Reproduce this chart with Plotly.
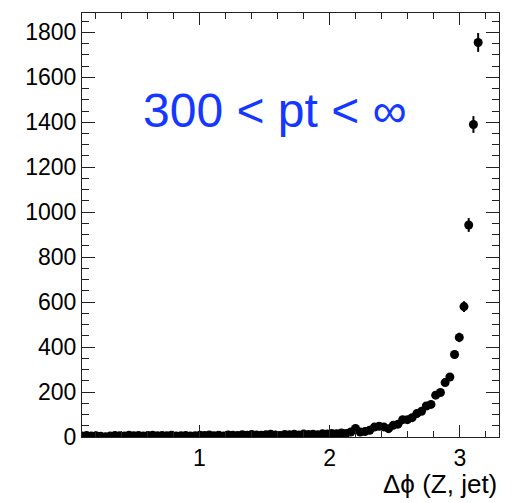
import numpy as np
import plotly.graph_objects as go

# Delta-phi bin centres (radians) and event counts per bin
bin_width = 0.0362
last_center = 3.14
counts = [
    # low delta-phi plateau
    5, 6, 4, 5, 7, 4, 6, 3, 1, 5, 7, 6, 5, 8, 6, 7, 5, 7, 8, 6, 7, 6, 8, 5, 6,
    7, 4, 6, 8, 7, 9, 6, 8, 5, 9, 8, 7, 10, 8, 11, 9, 8, 10, 12, 9, 7, 11,
    10, 12, 9, 13, 11, 12, 10, 14, 13, 16,
    # rise towards back-to-back topology
    14, 18, 16, 22, 38, 22, 24, 30, 44, 48, 45, 37, 52, 57, 77, 77, 86, 104,
    114, 138, 145, 186, 198, 242, 267, 367, 443, 580, 943, 1390, 1755,
]
n_bins = len(counts)
dphi = [last_center - bin_width * (n_bins - 1 - i) for i in range(n_bins)]
errors = np.sqrt(np.array(counts, dtype=float))

label_text = "300 < pt < \u221e"
x_title = "\u0394\u03d5 (Z, jet)"

x_range = [0.1, 3.3]
y_range = [0, 1886]

fig = go.Figure()
fig.add_trace(go.Scatter(
    x=dphi, y=counts,
    mode="markers",
    marker=dict(symbol="circle", size=9, color="black"),
    error_y=dict(type="data", array=errors, visible=True,
                 width=0, thickness=2, color="black"),
    showlegend=False,
))

font_family = "Liberation Sans, Arial, sans-serif"

axis_common = dict(
    showline=True, linecolor="#222", linewidth=1,
    mirror="ticks", ticks="inside", tickcolor="#222", tickwidth=1,
    showgrid=False, zeroline=False,
    tickfont=dict(family=font_family, size=23, color="black"),
)

fig.update_xaxes(
    range=x_range, tick0=0, dtick=1, ticklen=12,
    minor=dict(dtick=0.2, ticklen=6, ticks="inside", tickcolor="#222", showgrid=False),
    **axis_common,
)
fig.update_yaxes(
    range=y_range, tick0=0, dtick=200, ticklen=13,
    minor=dict(dtick=50, ticklen=7, ticks="inside", tickcolor="#222", showgrid=False),
    **axis_common,
)

fig.add_annotation(
    x=0.463, y=0.769, xref="paper", yref="paper",
    text=label_text, showarrow=False,
    xanchor="center", yanchor="middle",
    font=dict(family=font_family, size=48, color="#1438ff"),
)
fig.add_annotation(
    x=1.0, y=-0.111, xref="paper", yref="paper",
    text=x_title, showarrow=False,
    xanchor="right", yanchor="middle",
    font=dict(family=font_family, size=26, color="black"),
)

fig.update_layout(
    width=513, height=503,
    margin=dict(l=81.5, r=14, t=13, b=66),
    paper_bgcolor="white", plot_bgcolor="white",
)

fig.write_html("out.html")
